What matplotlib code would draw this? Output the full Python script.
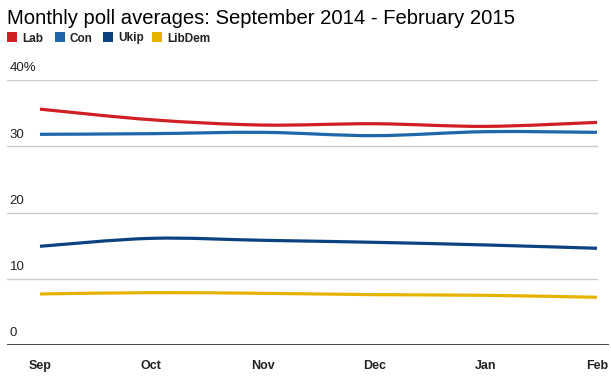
import matplotlib
matplotlib.use("Agg")
import matplotlib.pyplot as plt
import matplotlib.patches as mpatches
from matplotlib.path import Path
import numpy as np

plt.rcParams["font.family"] = ["Liberation Sans", "DejaVu Sans"]

# Datos
months = ["Sep", "Oct", "Nov", "Dec", "Jan", "Feb"]
parties = ["Lab", "Con", "Ukip", "LibDem"]
lab = [35.6, 34.0, 33.2, 33.4, 33.0, 33.6]
con = [31.8, 31.9, 32.1, 31.6, 32.2, 32.1]
ukip = [14.9, 16.1, 15.8, 15.5, 15.1, 14.6]
libdem = [7.7, 7.9, 7.8, 7.6, 7.5, 7.2]
y_ticks = [0, 10, 20, 30, 40]
y_labels = ["0", "10", "20", "30", "40%"]

COLORS = ["#D11F26", "#1F67AA", "#0C4280", "#E6B400"]
GRID = "#CCCCCC"


def smooth_path(xs, ys, tension=1 / 6):
    """Curva Bezier tipo Catmull-Rom que pasa por todos los puntos."""
    pts = np.column_stack([xs, ys]).astype(float)
    verts = [pts[0]]
    codes = [Path.MOVETO]
    n = len(pts)
    for i in range(n - 1):
        p0 = pts[max(i - 1, 0)]
        p1 = pts[i]
        p2 = pts[i + 1]
        p3 = pts[min(i + 2, n - 1)]
        c1 = p1 + (p2 - p0) * tension
        c2 = p2 - (p3 - p1) * tension
        verts += [c1, c2, p2]
        codes += [Path.CURVE4] * 3
    return Path(verts, codes)


fig = plt.figure(figsize=(6.11, 3.77), dpi=100)
fig.patch.set_facecolor("white")

x0, x1 = -0.296, 5.108
ax = fig.add_axes([7 / 611, 32 / 377, 602 / 611, 265 / 377])
ax.set_xlim(x0, x1)
ax.set_ylim(0, 40)
for s in ax.spines.values():
    s.set_visible(False)

grid_end = (len(months) - 1 - x0) / (x1 - x0)
for t, lbl in zip(y_ticks, y_labels):
    if t == 0:
        ax.axhline(t, color="#222222", lw=1.2, zorder=1)
    else:
        ax.axhline(t, xmin=0, xmax=grid_end, color=GRID, lw=1.0, zorder=1)
    ax.annotate(lbl, (0, t), xycoords=("axes fraction", "data"),
                xytext=(2, 4), textcoords="offset points",
                ha="left", va="bottom", fontsize=9.5, color="#222222")

ax.set_yticks([])
xs = np.arange(len(months))
ax.set_xticks(xs)
ax.set_xticklabels(months, fontsize=9, fontweight="bold", color="#222222")
ax.tick_params(axis="x", length=0, pad=11)
# Feb queda pegado al borde derecho como en la referencia
for lbl in ax.get_xticklabels():
    lbl.set_x(lbl.get_position()[0])
ax.get_xticklabels()[-1].set_horizontalalignment("center")

for vals, color in zip([lab, con, ukip, libdem], COLORS):
    ax.add_patch(mpatches.PathPatch(smooth_path(xs, vals), facecolor="none",
                                    edgecolor=color, lw=2.3, capstyle="butt",
                                    zorder=3))

fig.text(7 / 611, 1 - 24 / 377, "Monthly poll averages: September 2014 - February 2015",
         fontsize=14.6, color="black", ha="left", va="baseline")

leg_x = [7, 55, 103, 152]
for name, color, lx in zip(parties, COLORS, leg_x):
    fig.add_artist(mpatches.Rectangle((lx / 611, 1 - 42 / 377), 9.5 / 611, 10 / 377,
                                      transform=fig.transFigure, facecolor=color,
                                      edgecolor="none"))
    fig.text((lx + 15) / 611, 1 - 41.5 / 377, name, fontsize=8.5, fontweight="bold",
             color="#222222", ha="left", va="baseline")

fig.savefig("out.png", dpi=100, facecolor="white")
